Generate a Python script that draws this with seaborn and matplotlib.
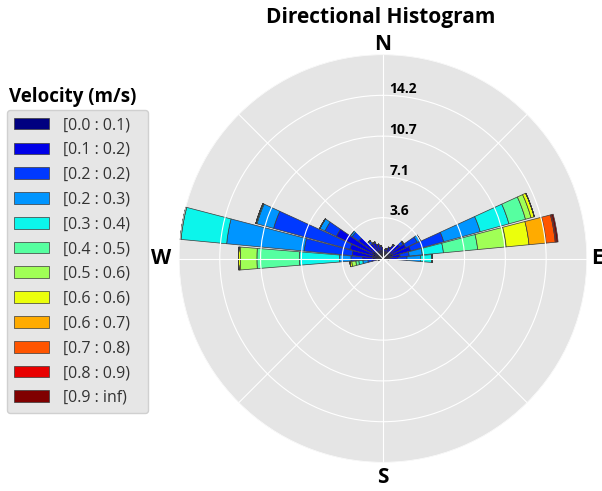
import numpy as np
import matplotlib.pyplot as plt
import seaborn as sns

# sectors every 10 degrees (compass, clockwise from north)
directions = np.arange(0, 360, 10)

bin_labels = ['[0.0 : 0.1)', '[0.1 : 0.2)', '[0.2 : 0.2)', '[0.2 : 0.3)',
              '[0.3 : 0.4)', '[0.4 : 0.5)', '[0.5 : 0.6)', '[0.6 : 0.6)',
              '[0.6 : 0.7)', '[0.7 : 0.8)', '[0.8 : 0.9)', '[0.9 : inf)']

compass_ticks = [0, 45, 90, 135, 180, 225, 270, 315]
compass_labels = ['N', '', 'E', '', 'S', '', 'W', '']

# frequency (%) per velocity bin, one value per sector (0, 10, ..., 350)
v00 = [0.6, 0.6, 0.6, 0.6, 0.6, 0.7, 0.8, 0.9, 0.7, 0.6, 0.3, 0, 0, 0, 0, 0, 0, 0,
       0, 0, 0, 0, 0, 0, 0, 0.3, 0.5, 0.9, 0.9, 0.9, 1.0, 0.8, 0.7, 0.7, 0.7, 0.7]
v01 = [0.3, 0.2, 0.3, 0.5, 0.8, 1.1, 1.4, 1.6, 0.8, 0.7, 0.2, 0, 0, 0, 0, 0, 0, 0,
       0, 0, 0, 0, 0, 0, 0, 0.1, 0.47, 0.9, 1.8, 2.1, 3.5, 1.8, 0.9, 0.8, 0.6, 0.4]
v02 = [0, 0, 0, 0, 0.1, 0.4, 1.1, 3.0, 0.8, 0.8, 0, 0, 0, 0, 0, 0, 0, 0,
       0, 0, 0, 0, 0, 0, 0, 0, 0.36, 1.0, 4.2, 6.9, 1.1, 0.7, 0.3, 0.1, 0, 0]
v03 = [0, 0, 0, 0, 0, 0, 0.3, 3.3, 1.15, 1.2, 0, 0, 0, 0, 0, 0, 0, 0,
       0, 0, 0, 0, 0, 0, 0, 0, 0.44, 1.0, 6.8, 1.5, 0.5, 0.2, 0, 0, 0, 0]
v04 = [0, 0, 0, 0, 0, 0, 0, 2.6, 1.85, 1.0, 0, 0, 0, 0, 0, 0, 0, 0,
       0, 0, 0, 0, 0, 0, 0, 0, 0.35, 3.5, 4.0, 0.1, 0, 0, 0, 0, 0, 0]
v05 = [0, 0, 0, 0, 0, 0, 0, 1.5, 3.0, 0, 0, 0, 0, 0, 0, 0, 0, 0,
       0, 0, 0, 0, 0, 0, 0, 0, 0.26, 3.7, 0.1, 0, 0, 0, 0, 0, 0, 0]
v06 = [0, 0, 0, 0, 0, 0, 0, 0.5, 2.5, 0, 0, 0, 0, 0, 0, 0, 0, 0,
       0, 0, 0, 0, 0, 0, 0, 0, 0.36, 1.45, 0, 0, 0, 0, 0, 0, 0, 0]
v07 = [0, 0, 0, 0, 0, 0, 0, 0.3, 2.0, 0, 0, 0, 0, 0, 0, 0, 0, 0,
       0, 0, 0, 0, 0, 0, 0, 0, 0.16, 0.15, 0, 0, 0, 0, 0, 0, 0, 0]
v08 = [0, 0, 0, 0, 0, 0, 0, 0, 1.5, 0, 0, 0, 0, 0, 0, 0, 0, 0,
       0, 0, 0, 0, 0, 0, 0, 0, 0, 0, 0, 0, 0, 0, 0, 0, 0, 0]
v09 = [0, 0, 0, 0, 0, 0, 0, 0, 0.8, 0, 0, 0, 0, 0, 0, 0, 0, 0,
       0, 0, 0, 0, 0, 0, 0, 0, 0, 0, 0, 0, 0, 0, 0, 0, 0, 0]
v10 = [0, 0, 0, 0, 0, 0, 0, 0, 0.1, 0, 0, 0, 0, 0, 0, 0, 0, 0,
       0, 0, 0, 0, 0, 0, 0, 0, 0, 0, 0, 0, 0, 0, 0, 0, 0, 0]
v11 = [0, 0, 0, 0, 0, 0, 0, 0, 0.15, 0, 0, 0, 0, 0, 0, 0, 0, 0,
       0, 0, 0, 0, 0, 0, 0, 0, 0, 0, 0, 0, 0, 0, 0, 0, 0, 0]

speed_bins = [v00, v01, v02, v03, v04, v05, v06, v07, v08, v09, v10, v11]

sns.set_theme(style='darkgrid', rc={'axes.facecolor': '#e5e5e5',
                                    'grid.color': 'white',
                                    'grid.linewidth': 0.8,
                                    'text.color': 'black'})
plt.rcParams['font.family'] = ['Open Sans', 'DejaVu Sans']

colors = sns.color_palette([tuple(c[:3]) for c in plt.get_cmap('jet')(np.linspace(0, 1, 12))])

fig = plt.figure(figsize=(6.02, 4.91), dpi=100)
fig.patch.set_facecolor('white')
ax = fig.add_axes([0.2973, 0.058, 0.6777, 0.831], projection='polar')
ax.set_theta_zero_location('N')
ax.set_theta_direction(-1)

theta = np.deg2rad(directions)
bottom = np.zeros(len(directions))
for vals, c, lab in zip(speed_bins, colors, bin_labels):
    vals = np.array(vals, dtype=float)
    ax.bar(theta, vals, width=np.deg2rad(9.2), bottom=bottom, color=c,
           edgecolor='#3a3a3a', linewidth=0.5, label=lab)
    bottom += vals

rmax = bottom.max()
ax.set_ylim(0, rmax)
rings = np.linspace(0, rmax, 6)[1:]
ax.set_yticks(rings)
ax.set_yticklabels([])
for r in rings[:-1]:
    ax.annotate(f'{r:.1f}', xy=(0, r), xytext=(4.5, 4.5), textcoords='offset points',
                ha='left', va='center', fontsize=10, fontweight='bold', color='black')

# compass gridlines every 45 degrees, only the cardinal points are labelled
ax.set_xticks(np.deg2rad(compass_ticks))
ax.set_xticklabels([])
label_dist = {'N': 1.047, 'E': 1.05, 'S': 1.075, 'W': 1.088}
for ang, lab in zip(compass_ticks, compass_labels):
    if lab:
        ax.text(np.deg2rad(ang), label_dist[lab], lab, transform=ax.get_xaxis_transform(),
                ha='center', va='center', fontsize=15, fontweight='bold', color='black')
ax.spines['polar'].set_visible(False)
ax.set_axisbelow(False)

fig.text(381 / 602, 1 - 18 / 491, 'Directional Histogram', ha='center', va='center',
         fontsize=15, fontweight='bold', color='black')

fig.text(9 / 602, 1 - 97 / 491, 'Velocity (m/s)', ha='left', va='center',
         fontsize=13.5, fontweight='bold', color='black')
handles, labels = ax.get_legend_handles_labels()
leg = fig.legend(handles, labels, loc='upper left',
                 bbox_to_anchor=(7 / 602, 1 - 110 / 491 - 0.01, 141 / 602, 0.01), mode='expand',
                 borderaxespad=0, fontsize=11.5, handlelength=2.2, handleheight=0.75,
                 handletextpad=0.85, labelspacing=0.55, borderpad=0.45,
                 frameon=True, fancybox=True, facecolor='#e6e6e6', edgecolor='#d0d0d0',
                 framealpha=1.0)
for t in leg.get_texts():
    t.set_color('#333333')

fig.savefig('out.png', dpi=100)
